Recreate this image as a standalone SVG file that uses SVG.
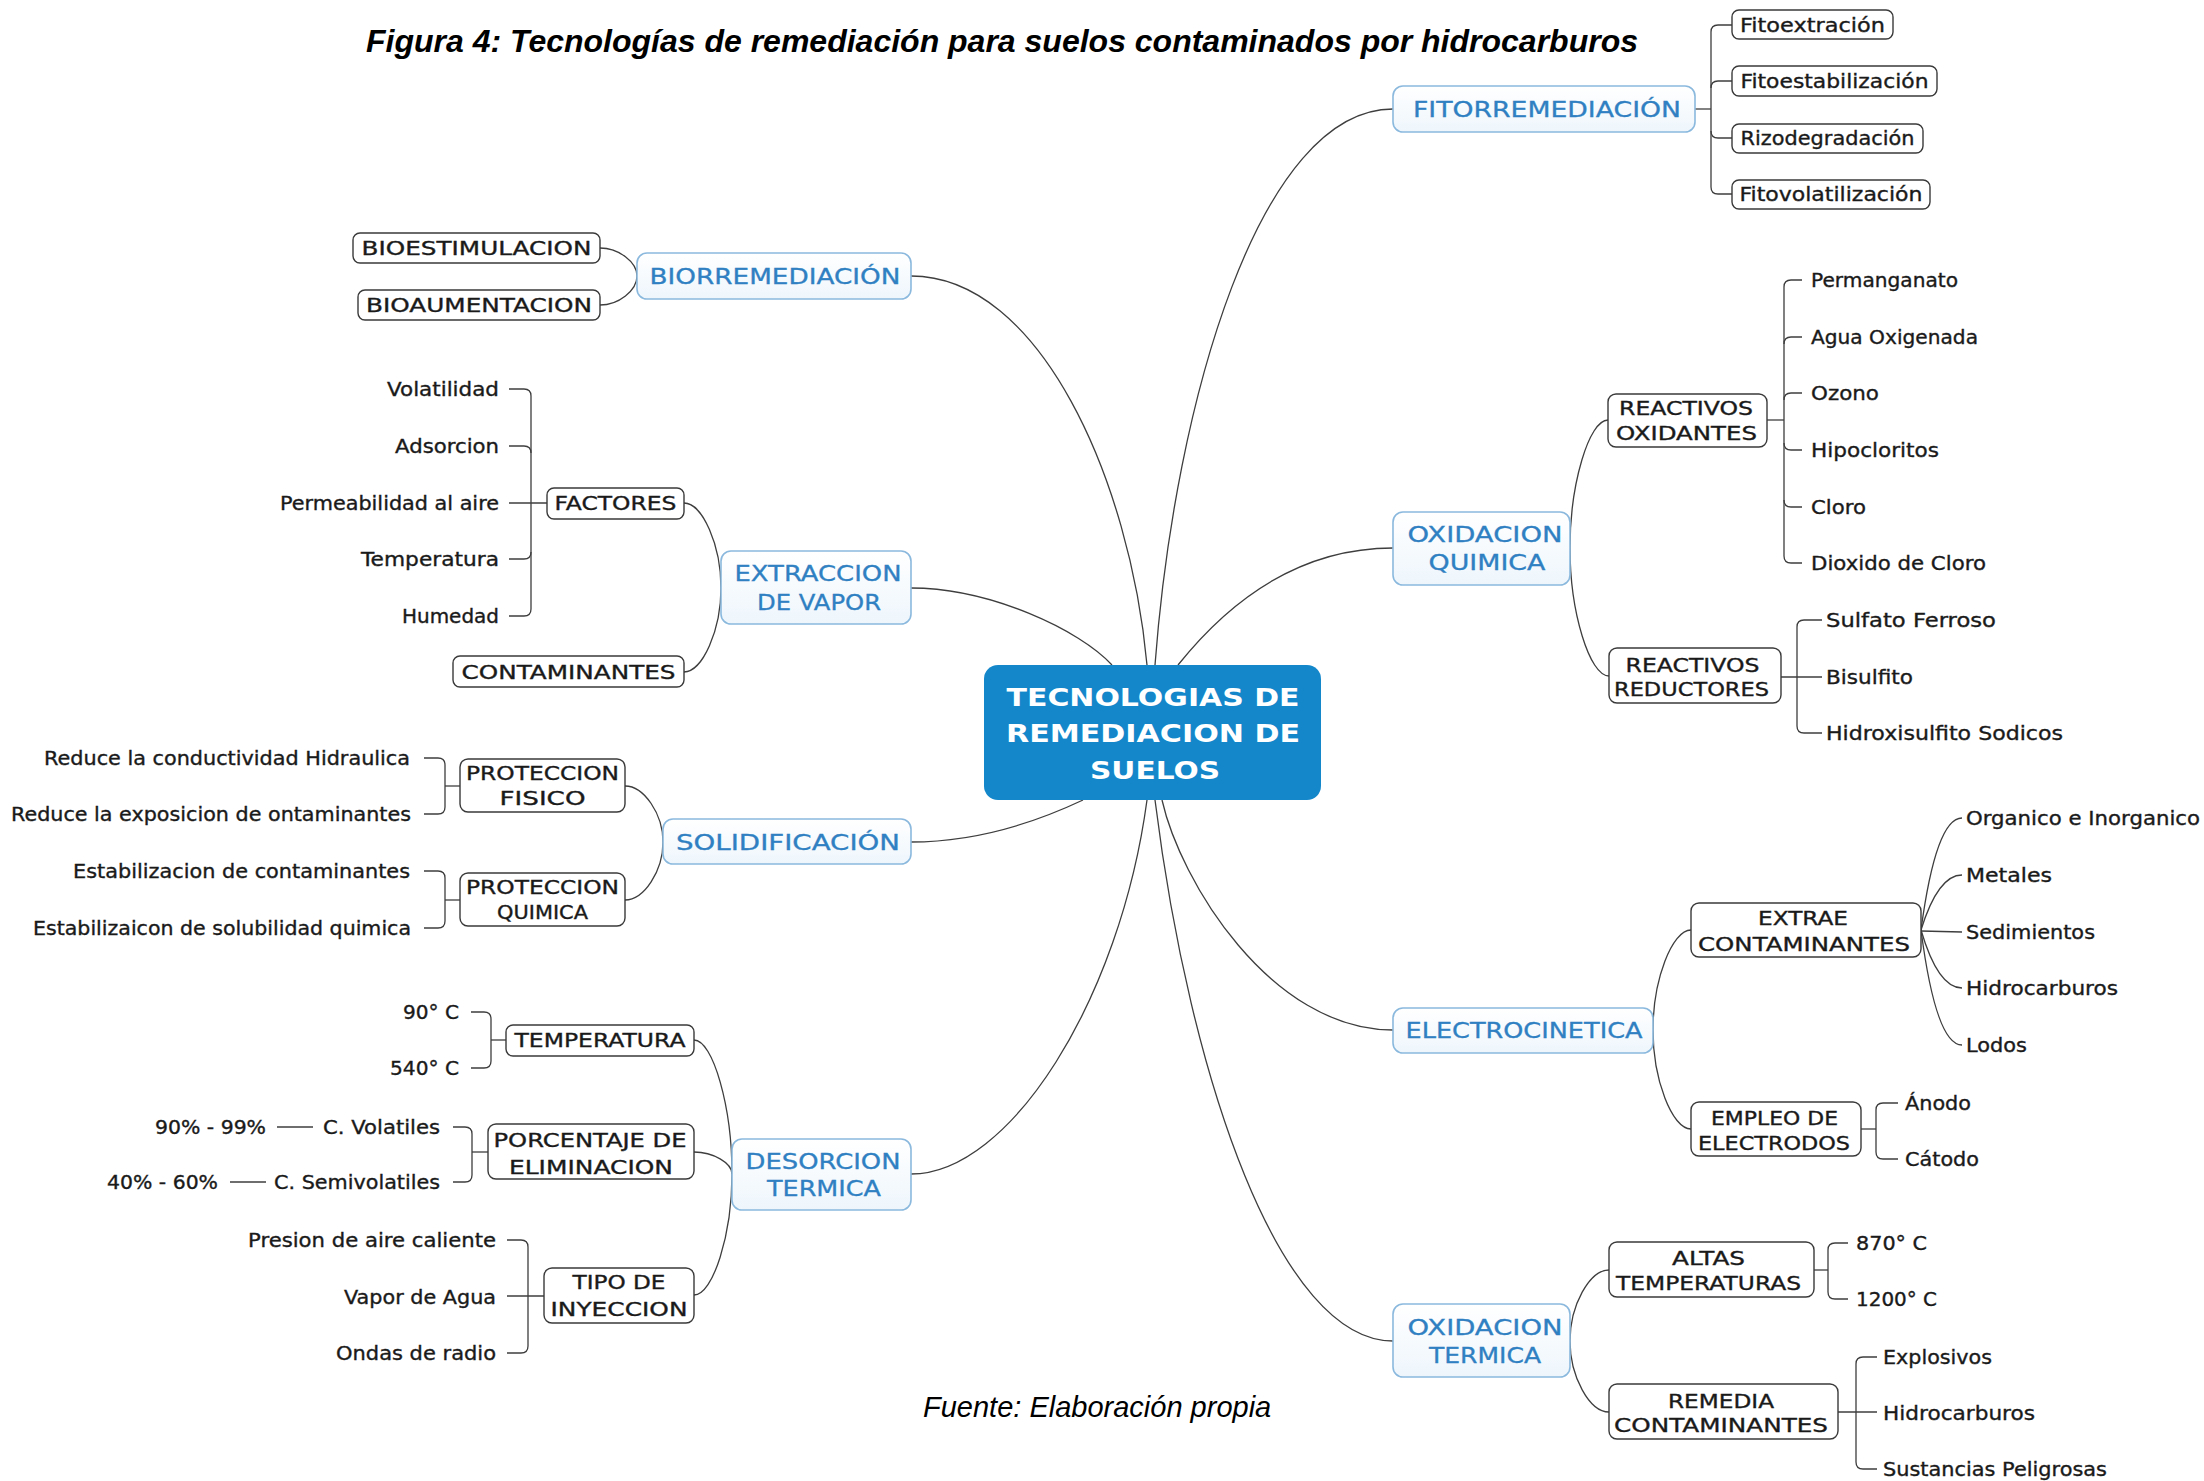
<svg xmlns="http://www.w3.org/2000/svg" width="2204" height="1481" viewBox="0 0 2204 1481">
<defs>
<linearGradient id="g1" x1="0" y1="0" x2="0" y2="1">
<stop offset="0" stop-color="#ffffff"/>
<stop offset="1" stop-color="#eef6fc"/>
</linearGradient>
<style>
.l1 rect{fill:url(#g1);stroke:#8bb9de;stroke-width:1.6}
.l1 text{font-family:"DejaVu Sans",sans-serif;font-size:21px;fill:#2f80c2;stroke:#2f80c2;stroke-width:0.3;text-anchor:middle}
.l2 rect{fill:#ffffff;stroke:#3a3a3a;stroke-width:1.4}
.l2 text{font-family:"DejaVu Sans",sans-serif;font-size:19px;fill:#1a1a1a;stroke:#1a1a1a;stroke-width:0.35;text-anchor:middle}
.lf text{font-family:"DejaVu Sans",sans-serif;font-size:19px;fill:#1a1a1a;stroke:#1a1a1a;stroke-width:0.35}
.lf.e text{text-anchor:end}
.conn path{fill:none;stroke:#3e3e3e;stroke-width:1.3}
.ctr text{font-family:"DejaVu Sans",sans-serif;font-weight:bold;font-size:25px;fill:#ffffff;text-anchor:middle}
</style>
</defs>
<rect width="2204" height="1481" fill="#ffffff"/>

<text x="1002" y="52" text-anchor="middle" font-family="Liberation Sans, Arial, sans-serif" font-weight="bold" font-style="italic" font-size="32" fill="#000">Figura 4: Tecnologías de remediación para suelos contaminados por hidrocarburos</text>
<text x="923" y="1417" font-family="Liberation Sans, Arial, sans-serif" font-style="italic" font-size="29" fill="#000">Fuente: Elaboración propia</text>

<g id="connectors" class="conn">
<path d="M1155,665 C1175,400 1260,109 1393,109"/>
<path d="M1147,665 C1130,480 1040,276 911,276"/>
<path d="M1112,665 C1080,630 990,588 911,588"/>
<path d="M1178,665 C1230,600 1300,548 1393,548"/>
<path d="M1083,800 C1030,825 970,842 911,842"/>
<path d="M1147,800 C1120,1000 1010,1174 911,1174"/>
<path d="M1162,800 C1180,880 1270,1030 1393,1030"/>
<path d="M1155,800 C1190,1080 1280,1341 1393,1341"/>

<path d="M600,248 C618.5,248 637,262 637,276"/>
<path d="M600,305 C618.5,305 637,290.5 637,276"/>
<path d="M684,503 C702.5,503 721,545.5 721,588"/>
<path d="M684,672 C702.5,672 721,630 721,588"/>
<path d="M625,786 C644,786 663,814 663,842"/>
<path d="M625,900 C644,900 663,871 663,842"/>
<path d="M694,1040 C713,1040 732,1107 732,1174"/>
<path d="M694,1152 C713,1152 732,1163 732,1174"/>
<path d="M694,1295 C713,1295 732,1234.5 732,1174"/>
<path d="M1608,420 C1589,420 1570,484 1570,548"/>
<path d="M1609,676 C1589.5,676 1570,612 1570,548"/>
<path d="M1691,930 C1672,930 1653,980 1653,1030"/>
<path d="M1691,1129 C1672,1129 1653,1079.5 1653,1030"/>
<path d="M1609,1270 C1589.5,1270 1570,1305.5 1570,1341"/>
<path d="M1609,1412 C1589.5,1412 1570,1376.5 1570,1341"/>

<path d="M1732,25 L1718,25 Q1711,25 1711,32 L1711,187 Q1711,194 1718,194 L1732,194"/>
<path d="M1711,88 Q1711,81 1718,81 L1732,81"/>
<path d="M1711,131 Q1711,138 1718,138 L1732,138"/>
<path d="M1695,109 L1711,109"/>

<path d="M1802,280 L1791,280 Q1784,280 1784,287 L1784,556 Q1784,563 1791,563 L1802,563"/>
<path d="M1784,344 Q1784,337 1791,337 L1802,337"/>
<path d="M1784,400 Q1784,393 1791,393 L1802,393"/>
<path d="M1784,443 Q1784,450 1791,450 L1802,450"/>
<path d="M1784,500 Q1784,507 1791,507 L1802,507"/>
<path d="M1767,420 L1784,420"/>

<path d="M1822,620 L1804,620 Q1797,620 1797,627 L1797,726 Q1797,733 1804,733 L1822,733"/>
<path d="M1781,677 L1822,677"/>

<path d="M1921,930 Q1936,818 1962,818"/>
<path d="M1921,930 Q1938,875 1962,875"/>
<path d="M1921,931 L1962,932"/>
<path d="M1921,930 Q1938,988 1962,988"/>
<path d="M1921,930 Q1936,1045 1962,1045"/>

<path d="M1898,1103 L1883,1103 Q1876,1103 1876,1110 L1876,1152 Q1876,1159 1883,1159 L1898,1159"/>
<path d="M1861,1129 L1876,1129"/>

<path d="M1848,1243 L1835,1243 Q1828,1243 1828,1250 L1828,1292 Q1828,1299 1835,1299 L1848,1299"/>
<path d="M1814,1270 L1828,1270"/>

<path d="M1877,1357 L1863,1357 Q1856,1357 1856,1364 L1856,1462 Q1856,1469 1863,1469 L1877,1469"/>
<path d="M1838,1412 L1877,1412"/>

<path d="M509,389 L524,389 Q531,389 531,396 L531,609 Q531,616 524,616 L509,616"/>
<path d="M531,453 Q531,446 524,446 L509,446"/>
<path d="M531,552 Q531,559 524,559 L509,559"/>
<path d="M509,503 L547,503"/>

<path d="M424,758 L438,758 Q445,758 445,765 L445,807 Q445,814 438,814 L424,814"/>
<path d="M445,786 L460,786"/>
<path d="M424,871 L438,871 Q445,871 445,878 L445,921 Q445,928 438,928 L424,928"/>
<path d="M445,900 L460,900"/>

<path d="M471,1012 L484,1012 Q491,1012 491,1019 L491,1061 Q491,1068 484,1068 L471,1068"/>
<path d="M491,1040 L506,1040"/>

<path d="M453,1127 L465,1127 Q472,1127 472,1134 L472,1175 Q472,1182 465,1182 L453,1182"/>
<path d="M472,1152 L488,1152"/>
<path d="M277,1127 L313,1127"/>
<path d="M230,1182 L266,1182"/>

<path d="M507,1240 L521,1240 Q528,1240 528,1247 L528,1346 Q528,1353 521,1353 L507,1353"/>
<path d="M507,1296 L544,1296"/>
</g>

<g id="center" class="ctr">
<rect x="984" y="665" width="337" height="135" rx="14" fill="#1487cb"/>
<text x="1153" y="706" textLength="293" lengthAdjust="spacingAndGlyphs">TECNOLOGIAS DE</text>
<text x="1153" y="742" textLength="294" lengthAdjust="spacingAndGlyphs">REMEDIACION DE</text>
<text x="1155" y="779" textLength="130" lengthAdjust="spacingAndGlyphs">SUELOS</text>
</g>

<g id="fitorremediacion" class="l1"><rect x="1393" y="86" width="302" height="46" rx="10"/><text x="1547" y="116.5" textLength="268" lengthAdjust="spacingAndGlyphs">FITORREMEDIACIÓN</text></g>
<g id="biorremediacion" class="l1"><rect x="637" y="253" width="274" height="46" rx="10"/><text x="775" y="283.5" textLength="251" lengthAdjust="spacingAndGlyphs">BIORREMEDIACIÓN</text></g>
<g id="extraccion" class="l1"><rect x="721" y="551" width="190" height="73" rx="10"/><text x="818" y="580.5" textLength="167" lengthAdjust="spacingAndGlyphs">EXTRACCION</text><text x="819" y="609.5" textLength="124" lengthAdjust="spacingAndGlyphs">DE VAPOR</text></g>
<g id="solidificacion" class="l1"><rect x="663" y="819" width="248" height="45" rx="10"/><text x="788" y="849.5" textLength="224" lengthAdjust="spacingAndGlyphs">SOLIDIFICACIÓN</text></g>
<g id="desorcion" class="l1"><rect x="732" y="1139" width="179" height="71" rx="10"/><text x="823" y="1168.5" textLength="155" lengthAdjust="spacingAndGlyphs">DESORCION</text><text x="824" y="1195.5" textLength="114" lengthAdjust="spacingAndGlyphs">TERMICA</text></g>
<g id="oxidacion-quimica" class="l1"><rect x="1393" y="512" width="177" height="73" rx="10"/><text x="1485" y="541.5" textLength="155" lengthAdjust="spacingAndGlyphs">OXIDACION</text><text x="1487" y="569.5" textLength="117" lengthAdjust="spacingAndGlyphs">QUIMICA</text></g>
<g id="electrocinetica" class="l1"><rect x="1393" y="1008" width="260" height="45" rx="10"/><text x="1524" y="1037.5" textLength="237" lengthAdjust="spacingAndGlyphs">ELECTROCINETICA</text></g>
<g id="oxidacion-termica" class="l1"><rect x="1393" y="1304" width="177" height="73" rx="10"/><text x="1485" y="1334.5" textLength="155" lengthAdjust="spacingAndGlyphs">OXIDACION</text><text x="1485" y="1362.5" textLength="112" lengthAdjust="spacingAndGlyphs">TERMICA</text></g>

<g id="fitoextracion" class="l2"><rect x="1732" y="10" width="161" height="29" rx="7"/><text x="1812.5" y="31.5" textLength="145" lengthAdjust="spacingAndGlyphs">Fitoextración</text></g>
<g id="fitoestabilizacion" class="l2"><rect x="1732" y="66" width="205" height="30" rx="7"/><text x="1834.5" y="87.5" textLength="188" lengthAdjust="spacingAndGlyphs">Fitoestabilización</text></g>
<g id="rizodegradacion" class="l2"><rect x="1732" y="124" width="191" height="29" rx="7"/><text x="1827.5" y="144.5" textLength="174" lengthAdjust="spacingAndGlyphs">Rizodegradación</text></g>
<g id="fitovolatilizacion" class="l2"><rect x="1732" y="180" width="198" height="29" rx="7"/><text x="1831" y="200.5" textLength="183" lengthAdjust="spacingAndGlyphs">Fitovolatilización</text></g>

<g id="bioestimulacion" class="l2"><rect x="353" y="233" width="247" height="30" rx="7"/><text x="476.5" y="254.5" textLength="230" lengthAdjust="spacingAndGlyphs">BIOESTIMULACION</text></g>
<g id="bioaumentacion" class="l2"><rect x="358" y="290" width="242" height="30" rx="7"/><text x="479" y="311.5" textLength="226" lengthAdjust="spacingAndGlyphs">BIOAUMENTACION</text></g>

<g id="factores" class="l2"><rect x="547" y="488" width="137" height="31" rx="7"/><text x="615.5" y="509.5" textLength="122" lengthAdjust="spacingAndGlyphs">FACTORES</text></g>
<g id="contaminantes-ev" class="l2"><rect x="453" y="656" width="231" height="31" rx="7"/><text x="568.5" y="678.5" textLength="214" lengthAdjust="spacingAndGlyphs">CONTAMINANTES</text></g>

<g id="proteccion-fisico" class="l2"><rect x="460" y="759" width="165" height="53" rx="8"/><text x="542.5" y="779.5" textLength="153" lengthAdjust="spacingAndGlyphs">PROTECCION</text><text x="542.5" y="804.5" textLength="86" lengthAdjust="spacingAndGlyphs">FISICO</text></g>
<g id="proteccion-quimica" class="l2"><rect x="460" y="873" width="165" height="53" rx="8"/><text x="542.5" y="893.5" textLength="153" lengthAdjust="spacingAndGlyphs">PROTECCION</text><text x="542.5" y="918.5" textLength="91" lengthAdjust="spacingAndGlyphs">QUIMICA</text></g>

<g id="temperatura" class="l2"><rect x="506" y="1025" width="188" height="31" rx="7"/><text x="600" y="1046.5" textLength="171" lengthAdjust="spacingAndGlyphs">TEMPERATURA</text></g>
<g id="porcentaje" class="l2"><rect x="488" y="1124" width="206" height="55" rx="8"/><text x="590" y="1146.5" textLength="193" lengthAdjust="spacingAndGlyphs">PORCENTAJE DE</text><text x="591" y="1173.5" textLength="164" lengthAdjust="spacingAndGlyphs">ELIMINACION</text></g>
<g id="tipo-inyeccion" class="l2"><rect x="544" y="1268" width="150" height="55" rx="8"/><text x="619" y="1288.5" textLength="93" lengthAdjust="spacingAndGlyphs">TIPO DE</text><text x="619" y="1315.5" textLength="137" lengthAdjust="spacingAndGlyphs">INYECCION</text></g>

<g id="reactivos-oxidantes" class="l2"><rect x="1608" y="394" width="159" height="53" rx="8"/><text x="1686" y="414.5" textLength="134" lengthAdjust="spacingAndGlyphs">REACTIVOS</text><text x="1686.5" y="439.5" textLength="141" lengthAdjust="spacingAndGlyphs">OXIDANTES</text></g>
<g id="reactivos-reductores" class="l2"><rect x="1609" y="648" width="172" height="55" rx="8"/><text x="1692.5" y="671.5" textLength="134" lengthAdjust="spacingAndGlyphs">REACTIVOS</text><text x="1691.5" y="695.5" textLength="155" lengthAdjust="spacingAndGlyphs">REDUCTORES</text></g>

<g id="extrae-contaminantes" class="l2"><rect x="1691" y="903" width="230" height="54" rx="8"/><text x="1803" y="924.5" textLength="90" lengthAdjust="spacingAndGlyphs">EXTRAE</text><text x="1804" y="950.5" textLength="212" lengthAdjust="spacingAndGlyphs">CONTAMINANTES</text></g>
<g id="empleo-electrodos" class="l2"><rect x="1691" y="1102" width="170" height="54" rx="8"/><text x="1774.5" y="1124.5" textLength="127" lengthAdjust="spacingAndGlyphs">EMPLEO DE</text><text x="1774" y="1149.5" textLength="152" lengthAdjust="spacingAndGlyphs">ELECTRODOS</text></g>

<g id="altas-temperaturas" class="l2"><rect x="1609" y="1242" width="205" height="55" rx="8"/><text x="1708.5" y="1264.5" textLength="73" lengthAdjust="spacingAndGlyphs">ALTAS</text><text x="1708.5" y="1289.5" textLength="185" lengthAdjust="spacingAndGlyphs">TEMPERATURAS</text></g>
<g id="remedia-contaminantes" class="l2"><rect x="1609" y="1384" width="229" height="55" rx="8"/><text x="1721" y="1407.5" textLength="106" lengthAdjust="spacingAndGlyphs">REMEDIA</text><text x="1721" y="1431.5" textLength="214" lengthAdjust="spacingAndGlyphs">CONTAMINANTES</text></g>

<g id="volatilidad" class="lf e"><text x="499" y="395.5" textLength="112" lengthAdjust="spacingAndGlyphs">Volatilidad</text></g>
<g id="adsorcion" class="lf e"><text x="499" y="452.5" textLength="104" lengthAdjust="spacingAndGlyphs">Adsorcion</text></g>
<g id="permeabilidad" class="lf e"><text x="499" y="509.5" textLength="219" lengthAdjust="spacingAndGlyphs">Permeabilidad al aire</text></g>
<g id="temperatura-ev" class="lf e"><text x="499" y="565.5" textLength="138" lengthAdjust="spacingAndGlyphs">Temperatura</text></g>
<g id="humedad" class="lf e"><text x="499" y="622.5" textLength="97" lengthAdjust="spacingAndGlyphs">Humedad</text></g>

<g id="reduce-conductividad" class="lf e"><text x="410" y="764.5" textLength="366" lengthAdjust="spacingAndGlyphs">Reduce la conductividad Hidraulica</text></g>
<g id="reduce-exposicion" class="lf e"><text x="411" y="820.5" textLength="400" lengthAdjust="spacingAndGlyphs">Reduce la exposicion de ontaminantes</text></g>
<g id="estabilizacion-contaminantes" class="lf e"><text x="410" y="877.5" textLength="337" lengthAdjust="spacingAndGlyphs">Estabilizacion de contaminantes</text></g>
<g id="estabilizacion-solubilidad" class="lf e"><text x="411" y="934.5" textLength="378" lengthAdjust="spacingAndGlyphs">Estabilizaicon de solubilidad quimica</text></g>

<g id="t90" class="lf e"><text x="459" y="1018.5" textLength="56" lengthAdjust="spacingAndGlyphs">90° C</text></g>
<g id="t540" class="lf e"><text x="459" y="1074.5" textLength="69" lengthAdjust="spacingAndGlyphs">540° C</text></g>
<g id="c-volatiles" class="lf e"><text x="440" y="1133.5" textLength="117" lengthAdjust="spacingAndGlyphs">C. Volatiles</text></g>
<g id="c-semivolatiles" class="lf e"><text x="440" y="1188.5" textLength="166" lengthAdjust="spacingAndGlyphs">C. Semivolatiles</text></g>
<g id="p90-99" class="lf e"><text x="266" y="1133.5" textLength="111" lengthAdjust="spacingAndGlyphs">90% - 99%</text></g>
<g id="p40-60" class="lf e"><text x="218" y="1188.5" textLength="111" lengthAdjust="spacingAndGlyphs">40% - 60%</text></g>
<g id="presion-aire" class="lf e"><text x="496" y="1246.5" textLength="248" lengthAdjust="spacingAndGlyphs">Presion de aire caliente</text></g>
<g id="vapor-agua" class="lf e"><text x="496" y="1303.5" textLength="152" lengthAdjust="spacingAndGlyphs">Vapor de Agua</text></g>
<g id="ondas-radio" class="lf e"><text x="496" y="1359.5" textLength="160" lengthAdjust="spacingAndGlyphs">Ondas de radio</text></g>

<g id="permanganato" class="lf"><text x="1811" y="286.5" textLength="147" lengthAdjust="spacingAndGlyphs">Permanganato</text></g>
<g id="agua-oxigenada" class="lf"><text x="1811" y="343.5" textLength="167" lengthAdjust="spacingAndGlyphs">Agua Oxigenada</text></g>
<g id="ozono" class="lf"><text x="1811" y="399.5" textLength="68" lengthAdjust="spacingAndGlyphs">Ozono</text></g>
<g id="hipocloritos" class="lf"><text x="1811" y="456.5" textLength="128" lengthAdjust="spacingAndGlyphs">Hipocloritos</text></g>
<g id="cloro" class="lf"><text x="1811" y="513.5" textLength="55" lengthAdjust="spacingAndGlyphs">Cloro</text></g>
<g id="dioxido-cloro" class="lf"><text x="1811" y="569.5" textLength="175" lengthAdjust="spacingAndGlyphs">Dioxido de Cloro</text></g>
<g id="sulfato-ferroso" class="lf"><text x="1826" y="626.5" textLength="170" lengthAdjust="spacingAndGlyphs">Sulfato Ferroso</text></g>
<g id="bisulfito" class="lf"><text x="1826" y="683.5" textLength="87" lengthAdjust="spacingAndGlyphs">Bisulfito</text></g>
<g id="hidroxisulfito" class="lf"><text x="1826" y="739.5" textLength="237" lengthAdjust="spacingAndGlyphs">Hidroxisulfito Sodicos</text></g>

<g id="organico" class="lf"><text x="1966" y="824.5" textLength="234" lengthAdjust="spacingAndGlyphs">Organico e Inorganico</text></g>
<g id="metales" class="lf"><text x="1966" y="881.5" textLength="86" lengthAdjust="spacingAndGlyphs">Metales</text></g>
<g id="sedimientos" class="lf"><text x="1966" y="938.5" textLength="129" lengthAdjust="spacingAndGlyphs">Sedimientos</text></g>
<g id="hidrocarburos-ek" class="lf"><text x="1966" y="994.5" textLength="152" lengthAdjust="spacingAndGlyphs">Hidrocarburos</text></g>
<g id="lodos" class="lf"><text x="1966" y="1051.5" textLength="61" lengthAdjust="spacingAndGlyphs">Lodos</text></g>
<g id="anodo" class="lf"><text x="1905" y="1109.5" textLength="66" lengthAdjust="spacingAndGlyphs">Ánodo</text></g>
<g id="catodo" class="lf"><text x="1905" y="1165.5" textLength="74" lengthAdjust="spacingAndGlyphs">Cátodo</text></g>

<g id="t870" class="lf"><text x="1856" y="1249.5" textLength="71" lengthAdjust="spacingAndGlyphs">870° C</text></g>
<g id="t1200" class="lf"><text x="1856" y="1305.5" textLength="81" lengthAdjust="spacingAndGlyphs">1200° C</text></g>
<g id="explosivos" class="lf"><text x="1883" y="1363.5" textLength="109" lengthAdjust="spacingAndGlyphs">Explosivos</text></g>
<g id="hidrocarburos-ot" class="lf"><text x="1883" y="1419.5" textLength="152" lengthAdjust="spacingAndGlyphs">Hidrocarburos</text></g>
<g id="sustancias" class="lf"><text x="1883" y="1475.5" textLength="224" lengthAdjust="spacingAndGlyphs">Sustancias Peligrosas</text></g>
</svg>
